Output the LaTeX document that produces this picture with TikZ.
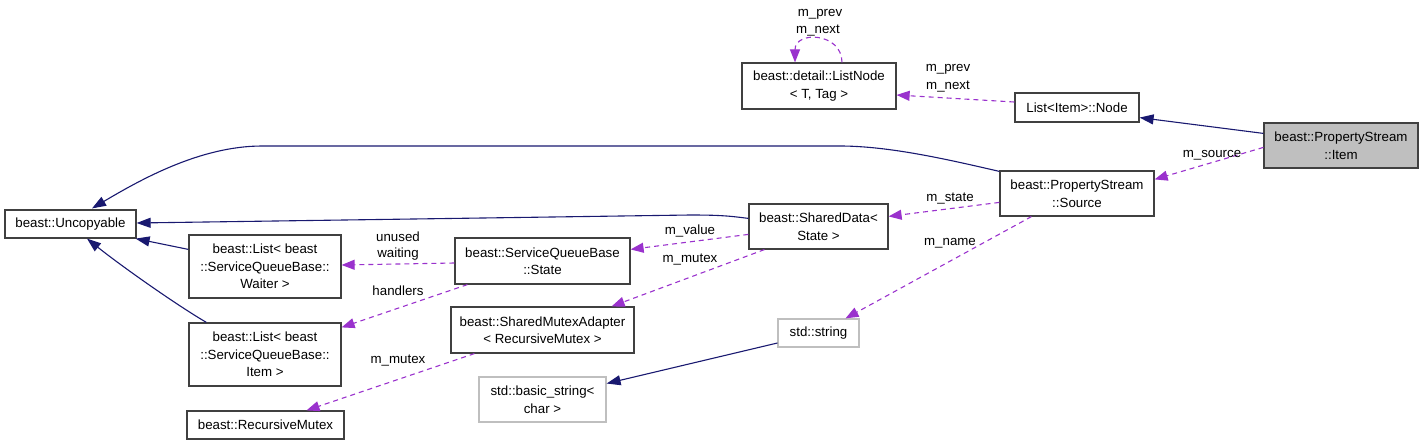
\documentclass[tikz,border=0pt]{standalone}
\usepackage{fontspec}
\setmainfont{Liberation Sans}
\usetikzlibrary{arrows.meta}
\definecolor{navy}{HTML}{191970}
\definecolor{orchid}{HTML}{9A32CD}
\definecolor{boxline}{HTML}{404040}
\definecolor{extline}{HTML}{BFBFBF}
\definecolor{itemfill}{HTML}{BFBFBF}
\begin{document}
\begin{tikzpicture}[x=1pt,y=-1pt,
  every node/.style={font=\fontsize{13.3}{17.5}\selectfont, inner sep=0pt, align=center, text=black},
  cls/.style={draw=boxline, line width=1.2pt},
  ext/.style={draw=extline, line width=1.2pt},
  cur/.style={draw=boxline, line width=1.2pt, fill=itemfill},
  inh/.style={draw=navy, line width=1.1pt, -{Triangle[length=14pt,width=10pt,fill=navy]}},
  use/.style={draw=orchid, line width=1.1pt, dash pattern=on 5pt off 4pt, -{Triangle[length=13pt,width=10pt,fill=orchid]}},
  lbl/.style={}]
\useasboundingbox (0,0) rectangle (1424,445);
% nodes
\node[cls, minimum width=131pt, minimum height=28pt] (unc) at (70.5,224) {beast::Uncopyable};
\node[cls, minimum width=152pt, minimum height=63pt] (lw) at (265,266.5) {beast::List\textless{} beast\\::ServiceQueueBase::\\Waiter \textgreater};
\node[cls, minimum width=152pt, minimum height=63pt] (li) at (265,354.5) {beast::List\textless{} beast\\::ServiceQueueBase::\\Item \textgreater};
\node[cls, minimum width=157pt, minimum height=28pt] (rm) at (265.5,425) {beast::RecursiveMutex};
\node[cls, minimum width=175pt, minimum height=46pt] (sqs) at (542.5,261) {beast::ServiceQueueBase\\::State};
\node[cls, minimum width=183pt, minimum height=46pt] (sma) at (542.5,330) {beast::SharedMutexAdapter\\\textless{} RecursiveMutex \textgreater};
\node[ext, minimum width=127pt, minimum height=45pt] (bs) at (542.5,399.5) {std::basic\_string\textless\\char \textgreater};
\node[ext, minimum width=81pt, minimum height=28pt] (str) at (818.5,333) {std::string};
\node[cls, minimum width=139pt, minimum height=45pt] (sd) at (818.5,226.5) {beast::SharedData\textless\\State \textgreater};
\node[cls, minimum width=154pt, minimum height=45pt] (src) at (1077,193.5) {beast::PropertyStream\\::Source};
\node[cur, minimum width=154pt, minimum height=45pt] (item) at (1341,145.5) {beast::PropertyStream\\::Item};
\node[cls, minimum width=124pt, minimum height=29pt] (lnode) at (1077,107.5) {List\textless{}Item\textgreater{}::Node};
\node[cls, minimum width=154pt, minimum height=46pt] (ln) at (819,86) {beast::detail::ListNode\\\textless{} T, Tag \textgreater};
% inheritance edges
\draw[inh] ([shift={(0,11)}]item.north west) -- ([shift={(0,-5)}]lnode.south east);
\draw[inh] ([shift={(0,1)}]src.north west) .. controls (950,160) and (890,146) .. (840,146) -- (262,146) .. controls (200,146) and (140,180) .. ([shift={(21.5,-1)}]unc.north);
\draw[inh] ([shift={(0,15)}]sd.north west) .. controls (730,216) and (720,215) .. (690,215) -- ([shift={(0,-1)}]unc.east);
\draw[inh] ([shift={(0,15)}]lw.north west) -- ([shift={(-1,0)}]unc.south east);
\draw[inh] ([shift={(18,0)}]li.north west) .. controls (175,304) and (120,265) .. ([shift={(16.5,0)}]unc.south);
\draw[inh] ([shift={(0,10)}]str.west) -- ([shift={(0,-16)}]bs.east);
% usage edges
\draw[use] ([shift={(0,25)}]item.north west) -- ([shift={(0,9)}]src.north east);
\node[lbl] (lsrc) at (1212,155) {m\_source};
\draw[use] ([shift={(0,-5.5)}]lnode.west) -- ([shift={(0,9)}]ln.east);
\node[lbl] (lnp) at (948,69) {m\_prev};
\node[lbl] (lnn) at (948,87) {m\_next};
\draw[use] ([shift={(23,0)}]ln.north) .. controls ([shift={(23,-30)}]ln.north) and ([shift={(-24,-32)}]ln.north) .. ([shift={(-24,0)}]ln.north);
\node[lbl] (lsp) at (820,14) {m\_prev};
\node[lbl] (lsn) at (818,31) {m\_next};
\draw[use] ([shift={(0,2)}]sqs.west) -- ([shift={(0,-1.5)}]lw.east);
\node[lbl] (lun) at (398,237) {unused};
\node[lbl] (lwa) at (398,254) {waiting};
\draw[use] ([shift={(13,0)}]sqs.south west) -- ([shift={(0,5)}]li.north east);
\node[lbl] (lha) at (398,291) {handlers};
\draw[use] ([shift={(0,31)}]sd.north west) -- ([shift={(0,12)}]sqs.north east);
\node[lbl] (lva) at (690,231) {m\_value};
\draw[use] ([shift={(16,0)}]sd.south west) -- ([shift={(-23,0)}]sma.north east);
\node[lbl] (lmu) at (690,260) {m\_mutex};
\draw[use] ([shift={(24,0)}]sma.south west) -- ([shift={(41,0)}]rm.north);
\node[lbl] (lmu2) at (398,361) {m\_mutex};
\draw[use] ([shift={(0,32)}]src.north west) -- ([shift={(0,13)}]sd.north east);
\node[lbl] (lst) at (950,199) {m\_state};
\draw[use] ([shift={(32,0)}]src.south west) -- ([shift={(27,0)}]str.north);
\node[lbl] (lna) at (950,243) {m\_name};
\end{tikzpicture}
\end{document}
